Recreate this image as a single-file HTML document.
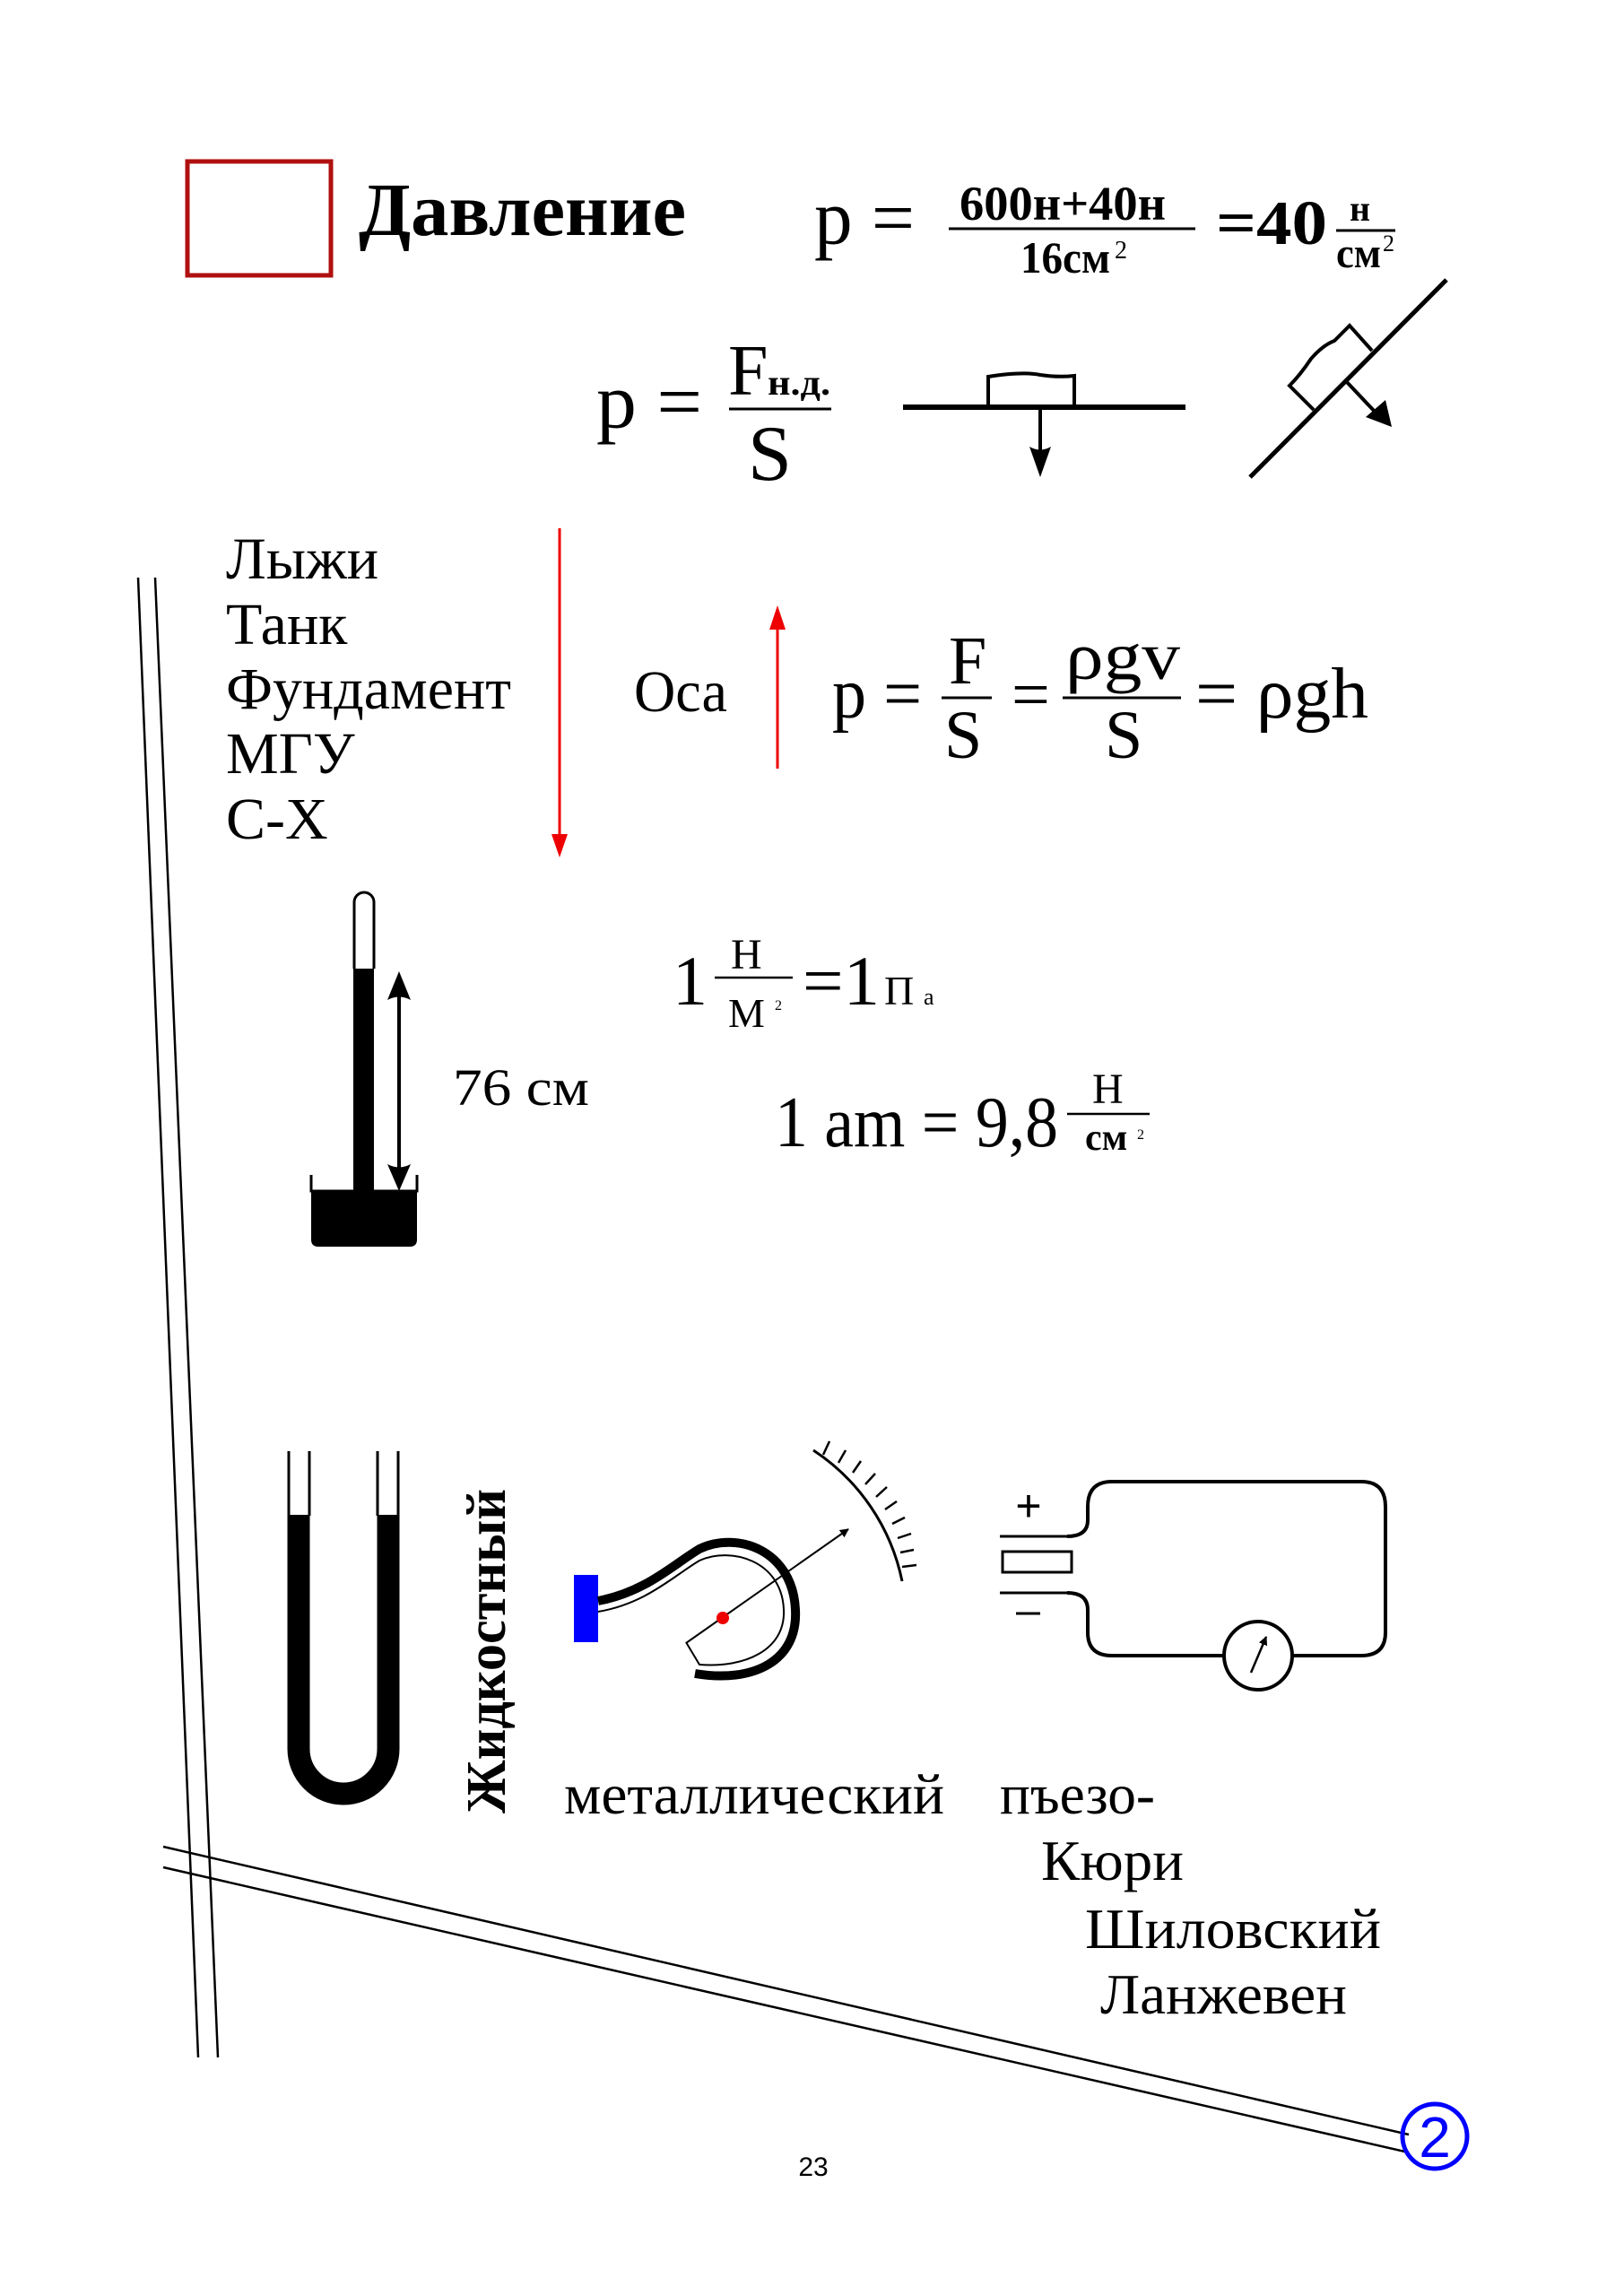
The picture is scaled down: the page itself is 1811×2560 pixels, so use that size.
<!DOCTYPE html>
<html><head><meta charset="utf-8"><style>
html,body{margin:0;padding:0;background:#fff;}
svg{display:block;}
text{font-family:"Liberation Serif",serif;fill:#000;}
</style></head><body>
<svg width="1811" height="2560" viewBox="0 0 1811 2560" xmlns="http://www.w3.org/2000/svg">
<defs>
<marker id="ab" markerWidth="10" markerHeight="10" refX="9" refY="5" orient="auto" markerUnits="userSpaceOnUse"><path d="M0,0 L10,5 L0,10 z" fill="#000"/></marker>
</defs>
<!-- header -->
<rect x="209" y="180" width="160" height="127" fill="none" stroke="#b01010" stroke-width="5"/>
<text x="400" y="262" font-size="84" font-weight="bold" textLength="365" lengthAdjust="spacingAndGlyphs">Давление</text>
<text x="908" y="272" font-size="88" textLength="112" lengthAdjust="spacingAndGlyphs">p =</text>
<text x="1070" y="245" font-size="54" font-weight="bold" textLength="230" lengthAdjust="spacingAndGlyphs">600н+40н</text>
<line x1="1058" y1="255" x2="1333" y2="255" stroke="#000" stroke-width="3"/>
<text x="1138" y="304" font-size="50" font-weight="bold" textLength="100" lengthAdjust="spacingAndGlyphs">16см</text>
<text x="1243" y="288" font-size="28">2</text>
<text x="1356" y="272" font-size="70" font-weight="bold" textLength="124" lengthAdjust="spacingAndGlyphs">=40</text>
<text x="1505" y="246" font-size="40" font-weight="bold">н</text>
<line x1="1490" y1="257" x2="1556" y2="257" stroke="#000" stroke-width="3"/>
<text x="1490" y="298" font-size="48" font-weight="bold" textLength="50" lengthAdjust="spacingAndGlyphs">см</text>
<text x="1542" y="280" font-size="26">2</text>
<!-- row2 -->
<text x="665" y="477" font-size="88" textLength="118" lengthAdjust="spacingAndGlyphs">p =</text>
<text x="812" y="440" font-size="80">F</text>
<text x="856" y="440" font-size="40" font-weight="bold" textLength="70" lengthAdjust="spacingAndGlyphs">н.д.</text>
<line x1="813" y1="456" x2="927" y2="456" stroke="#000" stroke-width="3"/>
<text x="834" y="535" font-size="88">S</text>
<line x1="1007" y1="454" x2="1322" y2="454" stroke="#000" stroke-width="6"/>
<path d="M1102,454 V420 Q1140,414 1160,418 Q1180,421 1198,419 V454" fill="none" stroke="#000" stroke-width="4"/>
<line x1="1160" y1="454" x2="1160" y2="505" stroke="#000" stroke-width="4"/>
<path d="M1148,498 L1160,532 L1172,498 Q1160,505 1148,498z" fill="#000"/>
<line x1="1394" y1="532" x2="1613" y2="312" stroke="#000" stroke-width="5"/>
<path d="M1465,457 L1438,430 Q1450,418 1462,400 Q1475,385 1488,380 L1505,363 L1530,391" fill="none" stroke="#000" stroke-width="4"/>
<line x1="1501" y1="425" x2="1535" y2="461" stroke="#000" stroke-width="4"/>
<path d="M1523,465 L1552,476 L1545,446 z" fill="#000"/>
<!-- list -->
<g font-size="66">
<text x="252" y="645">Лыжи</text>
<text x="252" y="718">Танк</text>
<text x="252" y="790" textLength="318" lengthAdjust="spacingAndGlyphs">Фундамент</text>
<text x="252" y="862">МГУ</text>
<text x="252" y="935">С-Х</text>
<text x="707" y="793" textLength="104" lengthAdjust="spacingAndGlyphs">Оса</text>
</g>
<line x1="624" y1="589" x2="624" y2="935" stroke="#e00" stroke-width="3"/>
<path d="M615,930 L624,956 L633,930 z" fill="#e00"/>
<line x1="867" y1="700" x2="867" y2="857" stroke="#e00" stroke-width="3"/>
<path d="M858,702 L867,675 L876,702 z" fill="#e00"/>
<text x="928" y="800" font-size="80" textLength="100" lengthAdjust="spacingAndGlyphs">p =</text>
<text x="1058" y="762" font-size="76">F</text>
<line x1="1050" y1="778" x2="1106" y2="778" stroke="#000" stroke-width="3"/>
<text x="1053" y="845" font-size="76">S</text>
<text x="1128" y="800" font-size="76">=</text>
<text x="1188" y="757" font-size="76" textLength="128" lengthAdjust="spacingAndGlyphs">ρgv</text>
<line x1="1185" y1="778" x2="1317" y2="778" stroke="#000" stroke-width="3"/>
<text x="1232" y="845" font-size="76">S</text>
<text x="1333" y="800" font-size="80" textLength="193" lengthAdjust="spacingAndGlyphs">= ρgh</text>
<!-- border lines -->
<g stroke="#000" stroke-width="2.5" fill="none">
<line x1="154" y1="644" x2="221" y2="2294"/>
<line x1="173" y1="644" x2="243" y2="2294"/>
<line x1="182" y1="2059" x2="1571" y2="2380"/>
<line x1="182" y1="2082" x2="1571" y2="2400"/>
</g>
<circle cx="1600" cy="2382" r="36" fill="none" stroke="#00f" stroke-width="5"/>
<text x="1600" y="2405" font-size="64" text-anchor="middle" style="fill:#00f;font-family:'Liberation Sans',sans-serif">2</text>
<text x="907" y="2426" font-size="30" text-anchor="middle" style="font-family:'Liberation Sans',sans-serif">23</text>
<!-- barometer -->
<path d="M395,1080 V1006 A11,11 0 0 1 417,1006 V1080" fill="none" stroke="#000" stroke-width="3"/>
<rect x="394" y="1080" width="23" height="260" fill="#000"/>
<path d="M347,1310 V1328 H465 V1310" fill="none" stroke="#000" stroke-width="3"/>
<path d="M347,1328 H465 V1382 Q465,1390 457,1390 H355 Q347,1390 347,1382 z" fill="#000"/>
<line x1="445" y1="1105" x2="445" y2="1305" stroke="#000" stroke-width="4"/>
<path d="M432,1115 L445,1083 L458,1115 Q445,1108 432,1115z" fill="#000"/>
<path d="M432,1298 L445,1328 L458,1298 Q445,1305 432,1298z" fill="#000"/>
<text x="505" y="1232" font-size="58" textLength="152" lengthAdjust="spacingAndGlyphs">76 см</text>
<!-- units -->
<text x="750" y="1120" font-size="78">1</text>
<text x="815" y="1080" font-size="48">Н</text>
<line x1="797" y1="1090" x2="884" y2="1090" stroke="#000" stroke-width="2.5"/>
<text x="812" y="1145" font-size="46">М</text>
<text x="864" y="1126" font-size="16">2</text>
<text x="895" y="1120" font-size="78" textLength="86" lengthAdjust="spacingAndGlyphs">=1</text>
<text x="986" y="1120" font-size="46">П</text>
<text x="1030" y="1120" font-size="26">a</text>
<text x="864" y="1278" font-size="80" textLength="316" lengthAdjust="spacingAndGlyphs">1 am = 9,8</text>
<text x="1218" y="1230" font-size="48">Н</text>
<line x1="1190" y1="1242" x2="1282" y2="1242" stroke="#000" stroke-width="2.5"/>
<text x="1210" y="1282" font-size="42" font-weight="bold">см</text>
<text x="1268" y="1270" font-size="16">2</text>
<!-- U tube -->
<path d="M333,1689 V1950 A50,50 0 0 0 433,1950 V1689" fill="none" stroke="#000" stroke-width="25"/>
<g stroke="#000" stroke-width="3"><line x1="322" y1="1618" x2="322" y2="1690"/><line x1="345" y1="1618" x2="345" y2="1690"/><line x1="421" y1="1618" x2="421" y2="1690"/><line x1="444" y1="1618" x2="444" y2="1690"/></g>
<text transform="translate(563,2022) rotate(-90)" font-size="62" font-weight="bold" textLength="362" lengthAdjust="spacingAndGlyphs">Жидкостный</text>
<!-- bourdon -->
<rect x="640" y="1756" width="27" height="75" fill="#00f"/>
<path d="M667,1785 C720,1775 750,1745 780,1727 C822,1707 884,1728 887,1795 C890,1852 840,1877 775,1866" fill="none" stroke="#000" stroke-width="10"/>
<path d="M667,1797 C720,1788 750,1758 780,1740 C815,1724 872,1740 874,1795 C876,1840 830,1860 780,1856 L765,1831" fill="none" stroke="#000" stroke-width="2"/>
<line x1="765" y1="1832" x2="946" y2="1705" stroke="#000" stroke-width="2" marker-end="url(#ab)"/>
<circle cx="806" cy="1804" r="7" fill="#e00"/>
<path d="M907,1617 A230,230 0 0 1 1006,1763" fill="none" stroke="#000" stroke-width="3"/>
<g stroke="#000" stroke-width="2.5">
<line x1="918" y1="1622" x2="925" y2="1607"/><line x1="935" y1="1631" x2="943" y2="1617"/><line x1="951" y1="1642" x2="960" y2="1629"/><line x1="965" y1="1655" x2="976" y2="1643"/><line x1="977" y1="1669" x2="989" y2="1658"/><line x1="987" y1="1683" x2="1000" y2="1674"/><line x1="995" y1="1699" x2="1009" y2="1692"/><line x1="1001" y1="1715" x2="1016" y2="1710"/><line x1="1004" y1="1731" x2="1019" y2="1728"/><line x1="1006" y1="1747" x2="1022" y2="1745"/>
</g>
<!-- piezo -->
<text x="1147" y="1696" font-size="50" text-anchor="middle" style="font-family:'Liberation Sans',sans-serif">+</text>
<line x1="1133" y1="1799" x2="1160" y2="1799" stroke="#000" stroke-width="3"/>
<line x1="1115" y1="1713" x2="1190" y2="1713" stroke="#000" stroke-width="3"/>
<rect x="1118" y="1730" width="77" height="23" fill="none" stroke="#000" stroke-width="3"/>
<line x1="1115" y1="1776" x2="1190" y2="1776" stroke="#000" stroke-width="3"/>
<path d="M1190,1713 Q1213,1713 1213,1695 V1680 Q1213,1652 1240,1652 H1518 Q1545,1652 1545,1680 V1820 Q1545,1846 1518,1846 H1441 M1365,1846 H1240 Q1213,1846 1213,1820 V1795 Q1213,1776 1190,1776" fill="none" stroke="#000" stroke-width="4"/>
<circle cx="1403" cy="1846" r="38" fill="none" stroke="#000" stroke-width="4"/>
<line x1="1395" y1="1865" x2="1412" y2="1825" stroke="#000" stroke-width="2.5" marker-end="url(#ab)"/>
<!-- labels -->
<g font-size="64">
<text x="629" y="2022" textLength="424" lengthAdjust="spacingAndGlyphs">металлический</text>
<text x="1115" y="2022" textLength="173" lengthAdjust="spacingAndGlyphs">пъезо-</text>
<text x="1161" y="2096" textLength="159" lengthAdjust="spacingAndGlyphs">Кюри</text>
<text x="1210" y="2172" textLength="330" lengthAdjust="spacingAndGlyphs">Шиловский</text>
<text x="1227" y="2245" textLength="275" lengthAdjust="spacingAndGlyphs">Ланжевен</text>
</g>
</svg>
</body></html>
